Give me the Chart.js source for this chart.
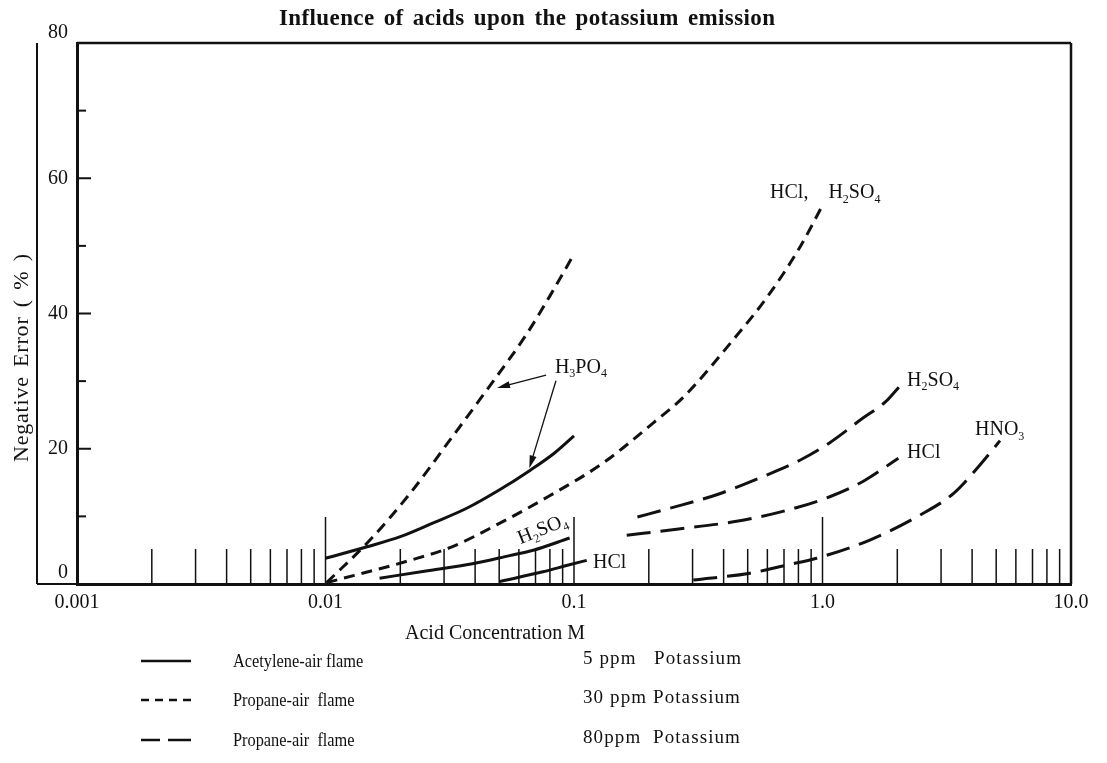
<!DOCTYPE html>
<html>
<head>
<meta charset="utf-8">
<title>Influence of acids upon the potassium emission</title>
<script src="https://cdn.jsdelivr.net/npm/chart.js@4.4.1/dist/chart.umd.min.js"></script>
<style>
  html, body { margin: 0; padding: 0; background: #fff; }
  canvas { display: block; }
</style>
</head>
<body>
<canvas id="chart" width="1107" height="763"></canvas>
<script>
// ---- Data: acid concentration (M) vs. negative error (%) ----
// Acetylene-air flame, 5 ppm potassium (solid)
const acH3PO4_M = [0.010, 0.0147, 0.020, 0.027, 0.037, 0.050, 0.0665, 0.083, 0.100];
const acH3PO4_E = [3.8, 5.5, 7.0, 9.0, 11.2, 13.9, 16.8, 19.3, 21.9];
const acH2SO4_M = [0.0165, 0.025, 0.039, 0.055, 0.0686, 0.096];
const acH2SO4_E = [0.85, 1.9, 3.0, 4.2, 5.0, 6.8];
const acHCl_M = [0.050, 0.075, 0.095, 0.1125];
const acHCl_E = [0.35, 1.8, 2.8, 3.5];
// Propane-air flame, 30 ppm potassium (short dashes)
const p30H3PO4_M = [0.0101, 0.0151, 0.0219, 0.0317, 0.0446, 0.0646, 0.0827, 0.0993];
const p30H3PO4_E = [0.2, 6.5, 13.4, 21.3, 28.7, 37.0, 43.5, 48.6];
const p30HClH2SO4_M = [0.0101, 0.0219, 0.0323, 0.0503, 0.0785, 0.131, 0.208, 0.275, 0.437, 0.598, 0.811, 1.01];
const p30HClH2SO4_E = [0.2, 3.5, 5.5, 9.0, 12.9, 17.9, 23.8, 27.6, 36.1, 42.4, 49.8, 56.3];
// Propane-air flame, 80 ppm potassium (long dashes)
const p80H2SO4_M = [0.18, 0.243, 0.375, 0.578, 0.811, 1.07, 1.45, 1.8, 2.05];
const p80H2SO4_E = [9.9, 11.2, 13.2, 15.9, 18.3, 20.9, 24.5, 27.0, 29.3];
const p80HCl_M = [0.163, 0.259, 0.438, 0.686, 1.07, 1.46, 2.02];
const p80HCl_E = [7.2, 8.1, 9.2, 10.7, 12.9, 15.2, 18.6];
const p80HNO3_M = [0.302, 0.511, 0.718, 0.946, 1.55, 2.47, 3.37, 4.30, 5.18];
const p80HNO3_E = [0.6, 1.6, 2.8, 3.8, 6.5, 10.2, 13.4, 17.6, 21.2];

// Axis ticks
const xTickValues = [0.001, 0.01, 0.1, 1, 10];
const xTickLabels = ['0.001', '0.01', '0.1', '1.0', '10.0'];
const yTickValues = [0, 20, 40, 60, 80];
const yTickLabels = ['0', '20', '40', '60', '80'];
const yMinorValues = [10, 30, 50, 70];

// Legend text
const legendFlames = ['Acetylene-air flame', 'Propane-air  flame', 'Propane-air  flame'];
const legendLevels = ['5 ppm   Potassium', '30 ppm Potassium', '80ppm  Potassium'];

// ---- Styling ----
const SERIF = '"Liberation Serif", "DejaVu Serif", "Times New Roman", serif';
const INK = '#111';
const SHORT_DASH = [11, 7];
const LONG_DASH = [24, 10];

function pts(ms, es) { return ms.map((m, i) => ({ x: m, y: es[i] })); }
function series(label, ms, es, dash) {
  return {
    label, data: pts(ms, es), borderColor: INK, borderWidth: 3,
    borderDash: dash, pointRadius: 0, fill: false,
    cubicInterpolationMode: 'monotone', borderCapStyle: 'butt'
  };
}

const datasets = [
  series('Acetylene-air H3PO4', acH3PO4_M, acH3PO4_E, []),
  series('Acetylene-air H2SO4', acH2SO4_M, acH2SO4_E, []),
  series('Acetylene-air HCl', acHCl_M, acHCl_E, []),
  series('Propane-air 30 ppm H3PO4', p30H3PO4_M, p30H3PO4_E, SHORT_DASH),
  series('Propane-air 30 ppm HCl, H2SO4', p30HClH2SO4_M, p30HClH2SO4_E, SHORT_DASH),
  series('Propane-air 80 ppm H2SO4', p80H2SO4_M, p80H2SO4_E, LONG_DASH),
  series('Propane-air 80 ppm HCl', p80HCl_M, p80HCl_E, LONG_DASH),
  series('Propane-air 80 ppm HNO3', p80HNO3_M, p80HNO3_E, LONG_DASH)
];

// Curve labels, anchored in data units (left edge, baseline)
const curveLabels = [
  { text: 'H3PO4', m: 0.0838, e: 31.2 },
  { text: 'HCl,    H2SO4', m: 0.615, e: 57.05 },
  { text: 'H2SO4', m: 2.19, e: 29.3 },
  { text: 'HCl', m: 2.19, e: 18.6 },
  { text: 'HNO3', m: 4.11, e: 22.0 },
  { text: 'HCl', m: 0.1192, e: 2.36 },
  { text: 'H2SO4', m: 0.0743, e: 8.28, rot: -22, center: true }
];
// Arrows from the H3PO4 label to its two curves (tail -> head, data units)
const arrows = [
  { m0: 0.0772, e0: 30.9, m1: 0.0490, e1: 29.0 },
  { m0: 0.0846, e0: 30.05, m1: 0.0661, e1: 17.1 }
];

// Draws a formula with its digits as subscripts
function drawChem(ctx, str, x, y, size, center) {
  const parts = str.match(/\d+|[^\d]+/g);
  const big = size + 'px ' + SERIF;
  const small = Math.round(size * 0.62) + 'px ' + SERIF;
  let w = 0;
  parts.forEach(p => { ctx.font = /\d/.test(p) ? small : big; w += ctx.measureText(p).width; });
  let cx = center ? x - w / 2 : x;
  ctx.textAlign = 'left';
  ctx.textBaseline = 'alphabetic';
  parts.forEach(p => {
    const sub = /\d/.test(p);
    ctx.font = sub ? small : big;
    ctx.fillText(p, cx, y + (sub ? size * 0.22 : 0));
    cx += ctx.measureText(p).width;
  });
}

// Draws text with extra spacing between characters (and wider word gaps)
function spacedText(ctx, str, x, y, spacing, wordGap, center) {
  const chars = [...str];
  const widths = chars.map(c => ctx.measureText(c).width + spacing + (c === ' ' ? wordGap : 0));
  const total = widths.reduce((s, w) => s + w, 0) - spacing;
  let x0 = center ? x - total / 2 : x;
  ctx.textAlign = 'left';
  chars.forEach((c, i) => { ctx.fillText(c, x0, y); x0 += widths[i]; });
}

function line(ctx, x0, y0, x1, y1) {
  ctx.beginPath(); ctx.moveTo(x0, y0); ctx.lineTo(x1, y1); ctx.stroke();
}

const decorPlugin = {
  id: 'decor',
  afterDraw(chart) {
    const { ctx, chartArea: a, scales: { x, y } } = chart;
    ctx.save();
    ctx.strokeStyle = INK; ctx.fillStyle = INK; ctx.setLineDash([]);

    // frame: top and right edges, outer left rule
    ctx.lineWidth = 2.5;
    line(ctx, a.left, a.top, a.right, a.top);
    line(ctx, a.right, a.top, a.right, a.bottom);
    ctx.lineWidth = 2;
    line(ctx, 37, a.top, 37, a.bottom);
    line(ctx, 37, a.bottom, a.left, a.bottom);

    // logarithmic tick marks, pointing into the plot
    ctx.lineWidth = 1.5;
    for (let d = 0.001; d < 9; d *= 10) {
      for (let k = 2; k <= 9; k++) {
        const px = x.getPixelForValue(d * k);
        line(ctx, px, a.bottom, px, a.bottom - 35);
      }
    }
    [0.01, 0.1, 1].forEach(v => {
      const px = x.getPixelForValue(v);
      line(ctx, px, a.bottom, px, a.bottom - 67);
    });

    // y ticks, pointing into the plot
    ctx.lineWidth = 2;
    yTickValues.slice(1, -1).forEach(v => {
      const py = y.getPixelForValue(v);
      line(ctx, a.left, py, a.left + 14, py);
    });
    yMinorValues.forEach(v => {
      const py = y.getPixelForValue(v);
      line(ctx, a.left, py, a.left + 9, py);
    });

    // y tick labels (end labels sit slightly above their ticks)
    ctx.font = '20px ' + SERIF;
    ctx.textAlign = 'right'; ctx.textBaseline = 'middle';
    yTickValues.forEach((v, i) => {
      let py = y.getPixelForValue(v);
      if (i === 0) py -= 11;
      if (i === yTickValues.length - 1) py -= 10;
      ctx.fillText(yTickLabels[i], 68, py);
    });

    // titles
    ctx.textBaseline = 'alphabetic';
    ctx.font = 'bold 23px ' + SERIF;
    spacedText(ctx, 'Influence of acids upon the potassium emission', 527, 25, 0.4, 3, true);
    ctx.font = '20px ' + SERIF;
    ctx.textAlign = 'center';
    ctx.fillText('Acid Concentration M', 495, 639);
    ctx.save();
    ctx.translate(22, 358); ctx.rotate(-Math.PI / 2);
    ctx.textBaseline = 'middle';
    ctx.font = '22px ' + SERIF;
    spacedText(ctx, 'Negative Error ( % )', 0, 0, 0.8, 3, true);
    ctx.restore();

    // curve labels
    curveLabels.forEach(l => {
      const px = x.getPixelForValue(l.m), py = y.getPixelForValue(l.e);
      if (l.rot) {
        ctx.save();
        ctx.translate(px, py); ctx.rotate(l.rot * Math.PI / 180);
        drawChem(ctx, l.text, 0, 7, 20, true);
        ctx.restore();
      } else {
        drawChem(ctx, l.text, px, py, 20, false);
      }
    });

    // arrows
    ctx.lineWidth = 1.3;
    arrows.forEach(ar => {
      const x0 = x.getPixelForValue(ar.m0), y0 = y.getPixelForValue(ar.e0);
      const x1 = x.getPixelForValue(ar.m1), y1 = y.getPixelForValue(ar.e1);
      const ang = Math.atan2(y1 - y0, x1 - x0);
      line(ctx, x0, y0, x1 - Math.cos(ang) * 6, y1 - Math.sin(ang) * 6);
      ctx.beginPath();
      ctx.moveTo(x1, y1);
      ctx.lineTo(x1 - 13 * Math.cos(ang) + 3.5 * Math.sin(ang), y1 - 13 * Math.sin(ang) - 3.5 * Math.cos(ang));
      ctx.lineTo(x1 - 13 * Math.cos(ang) - 3.5 * Math.sin(ang), y1 - 13 * Math.sin(ang) + 3.5 * Math.cos(ang));
      ctx.closePath(); ctx.fill();
    });

    // legend
    const rows = [661, 700, 740];
    const dashes = [[], [8, 6], [19, 8, 24, 8]];
    ctx.lineWidth = 2.5;
    rows.forEach((ry, i) => {
      ctx.setLineDash(dashes[i]);
      line(ctx, 141, ry, 191, ry);
    });
    ctx.setLineDash([]);
    ctx.font = '19px ' + SERIF;
    ctx.textBaseline = 'middle';
    rows.forEach((ry, i) => {
      // flame type, set in a narrower face
      ctx.save();
      ctx.translate(233, ry + 1); ctx.scale(0.86, 1);
      ctx.textAlign = 'left';
      ctx.fillText(legendFlames[i], 0, 0);
      ctx.restore();
      spacedText(ctx, legendLevels[i], 583, ry - 2, 1.1, 0, false);
    });
    ctx.restore();
  }
};

new Chart(document.getElementById('chart'), {
  type: 'line',
  data: { datasets },
  options: {
    responsive: false,
    animation: false,
    devicePixelRatio: 1,
    layout: { padding: { left: 0, right: 36, top: 43, bottom: 0 } },
    plugins: { legend: { display: false }, tooltip: { enabled: false }, title: { display: false } },
    elements: { point: { radius: 0 } },
    scales: {
      x: {
        type: 'logarithmic', min: 0.001, max: 10, position: 'bottom',
        grid: { display: false, drawTicks: false },
        border: { display: true, color: INK, width: 3 },
        ticks: {
          autoSkip: false, maxRotation: 0, padding: 7, color: INK,
          font: { family: SERIF, size: 20 },
          callback: (v, i) => xTickLabels[i]
        },
        afterBuildTicks: s => { s.ticks = xTickValues.map(v => ({ value: v })); },
        afterFit: s => { s.height = 179; }
      },
      y: {
        type: 'linear', min: 0, max: 80, position: 'left',
        grid: { display: false, drawTicks: false },
        border: { display: true, color: INK, width: 3 },
        ticks: { display: false, stepSize: 20 },
        afterFit: s => { s.width = 77; }
      }
    }
  },
  plugins: [decorPlugin]
});
</script>
</body>
</html>
